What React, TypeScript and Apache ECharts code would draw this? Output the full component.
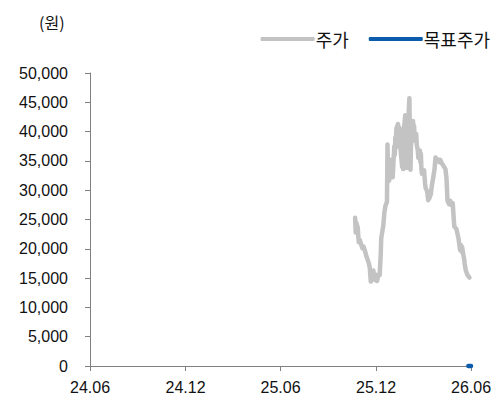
import React, { useEffect, useRef } from "react";
import * as echarts from "echarts";

// Daily closing price (원)
const priceDates: string[] = [
  "2025-10-22", "2025-10-23", "2025-10-24", "2025-10-27", "2025-10-28", "2025-10-29", "2025-10-31",
  "2025-11-03", "2025-11-05", "2025-11-07", "2025-11-10", "2025-11-12", "2025-11-14", "2025-11-17",
  "2025-11-19", "2025-11-21", "2025-11-24", "2025-11-26", "2025-11-28", "2025-12-01", "2025-12-03",
  "2025-12-05", "2025-12-08", "2025-12-10", "2025-12-11", "2025-12-15", "2025-12-17", "2025-12-19",
  "2025-12-22", "2025-12-23", "2025-12-24", "2025-12-26", "2025-12-29", "2025-12-30", "2026-01-02",
  "2026-01-05", "2026-01-06", "2026-01-07", "2026-01-08", "2026-01-09", "2026-01-12", "2026-01-13",
  "2026-01-14", "2026-01-15", "2026-01-16", "2026-01-20", "2026-01-21", "2026-01-22", "2026-01-23",
  "2026-01-26", "2026-01-27", "2026-01-28", "2026-01-29", "2026-02-02", "2026-02-03", "2026-02-04",
  "2026-02-05", "2026-02-06", "2026-02-09", "2026-02-10", "2026-02-11", "2026-02-12", "2026-02-13",
  "2026-02-16", "2026-02-17", "2026-02-19", "2026-02-20", "2026-02-23", "2026-02-24", "2026-02-25",
  "2026-02-26", "2026-02-27", "2026-03-03", "2026-03-05", "2026-03-06", "2026-03-09", "2026-03-11",
  "2026-03-13", "2026-03-16", "2026-03-18", "2026-03-20", "2026-03-23", "2026-03-25", "2026-03-27",
  "2026-03-30", "2026-04-01", "2026-04-03", "2026-04-06", "2026-04-09", "2026-04-13", "2026-04-15",
  "2026-04-16", "2026-04-17", "2026-04-20", "2026-04-22", "2026-04-24", "2026-04-27", "2026-04-28",
  "2026-04-30", "2026-05-04", "2026-05-06", "2026-05-08", "2026-05-11", "2026-05-13", "2026-05-14",
  "2026-05-15", "2026-05-18", "2026-05-19", "2026-05-20", "2026-05-22", "2026-05-25", "2026-05-27",
  "2026-05-29",
];

const priceValues: number[] = [
  25300, 22800, 24500, 23600, 22200, 21100, 21500,
  20600, 20100, 20400, 19600, 18900, 18400, 17600,
  16800, 14400, 15300, 16300, 14700, 15600, 14500,
  15400, 15500, 19000, 21800, 24000, 26200, 27300,
  28000, 37800, 33000, 31600, 33200, 35200, 32200,
  37500, 36000, 39000, 37200, 40500, 41300, 40800,
  39200, 40600, 38000, 34000, 38500, 33600, 40000,
  42800, 35000, 41500, 33800, 44000, 45700, 38000,
  33500, 37500, 41200, 41800, 40200, 41000, 38500,
  39600, 37800, 36800, 35500, 36800, 34800, 36200,
  33600, 32800, 33400, 31200, 30400, 29800, 28300,
  28600, 29300, 30800, 31800, 33500, 35600, 35300,
  35200, 34800, 35200, 34600, 34200, 33600, 32100,
  30200, 28200, 27600, 28200, 27500, 27800, 26400,
  23800, 23400, 22600, 21800, 19800, 20600, 19500,
  20300, 18600, 18200, 17400, 16300, 15600, 15300,
  15100,
];

// Target price (원)
const targetDates: string[] = ["2026-05-27", "2026-06-01"];
const targetValues: number[] = [0, 0];

const xTickDates: string[] = ["2024-06-01", "2024-12-01", "2025-06-01", "2025-12-01", "2026-06-01"];
const seriesNames: string[] = ["주가", "목표주가"];
const unitLabel = "(원)";

const ts = (d: string) => Date.UTC(+d.slice(0, 4), +d.slice(5, 7) - 1, +d.slice(8, 10));

export default function App() {
  const ref = useRef<HTMLDivElement>(null);

  useEffect(() => {
    if (!ref.current) return;
    const chart = echarts.init(ref.current, null, { renderer: "svg" });
    const tickTimes = xTickDates.map(ts);
    const font = "'Liberation Sans', Arial, sans-serif";
    const krFont = "'Noto Sans CJK KR', 'Noto Sans', sans-serif";

    chart.setOption({
      animation: false,
      backgroundColor: "#ffffff",
      title: {
        text: unitLabel,
        left: 34,
        top: 9,
        textStyle: { fontFamily: krFont, fontSize: 16, fontWeight: "normal", color: "#111" },
      },
      legend: {
        data: seriesNames,
        right: 0,
        top: 25,
        icon: "roundRect",
        itemWidth: 54,
        itemHeight: 4,
        itemGap: 20,
        textStyle: { fontFamily: krFont, fontSize: 18, color: "#111", padding: [0, 0, 0, -4] },
      },
      grid: { left: 90, right: 24, top: 73, bottom: 39 },
      xAxis: {
        type: "value",
        min: tickTimes[0],
        max: tickTimes[tickTimes.length - 1],
        splitLine: { show: false },
        axisLine: { lineStyle: { color: "#808080", width: 1 } },
        axisTick: { show: true, customValues: tickTimes, length: 5, lineStyle: { color: "#808080" } },
        axisLabel: {
          customValues: tickTimes,
          margin: 13,
          fontFamily: font,
          fontSize: 16,
          color: "#111",
          formatter: (v: number) => {
            const d = new Date(v);
            const yy = String(d.getUTCFullYear() % 100).padStart(2, "0");
            const mm = String(d.getUTCMonth() + 1).padStart(2, "0");
            return `${yy}.${mm}`;
          },
        },
      },
      yAxis: {
        type: "value",
        min: 0,
        max: 50000,
        interval: 5000,
        splitLine: { show: false },
        axisLine: { show: true, lineStyle: { color: "#808080", width: 1 } },
        axisTick: { show: true, length: 5, lineStyle: { color: "#808080" } },
        axisLabel: {
          margin: 22,
          fontFamily: font,
          fontSize: 16,
          color: "#111",
          formatter: (v: number) => v.toLocaleString("en-US"),
        },
      },
      series: [
        {
          name: seriesNames[0],
          type: "line",
          data: priceDates.map((d, i) => [ts(d), priceValues[i]]),
          showSymbol: false,
          symbol: "none",
          itemStyle: { color: "#c3c3c3" },
          lineStyle: { color: "#c3c3c3", width: 4.5, join: "round", cap: "round" },
        },
        {
          name: seriesNames[1],
          type: "line",
          clip: false,
          data: targetDates.map((d, i) => [ts(d), targetValues[i]]),
          showSymbol: false,
          symbol: "none",
          itemStyle: { color: "#0b5cad" },
          lineStyle: { color: "#0b5cad", width: 4.5, cap: "round" },
        },
      ],
    });

    return () => chart.dispose();
  }, []);

  return <div ref={ref} style={{ width: 495, height: 405, position: "absolute", left: 0, top: 0 }} />;
}
